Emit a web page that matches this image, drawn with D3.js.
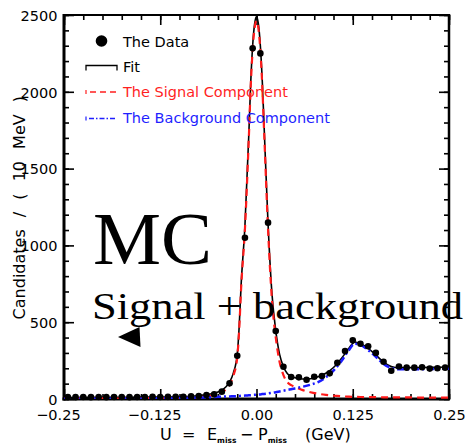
<!DOCTYPE html>
<html>
<head>
<meta charset="utf-8">
<script src="https://cdn.jsdelivr.net/npm/d3@7"></script>
<style>
  html, body { margin: 0; padding: 0; background: #fff; }
  svg { display: block; }
</style>
</head>
<body>
<svg id="chart" width="467" height="445"></svg>
<script>
// ---- binned candidates (10 MeV bins) ----
const binCenters = [
  -0.245, -0.235, -0.225, -0.215, -0.205, -0.195, -0.185, -0.175, -0.165, -0.155,
  -0.145, -0.135, -0.125, -0.115, -0.105, -0.095, -0.085, -0.075, -0.065, -0.055,
  -0.045, -0.035, -0.025, -0.015, -0.005,  0.005,  0.015,  0.025,  0.035,  0.045,
   0.055,  0.065,  0.075,  0.085,  0.095,  0.105,  0.115,  0.125,  0.135,  0.145,
   0.155,  0.165,  0.175,  0.185,  0.195,  0.205,  0.215,  0.225,  0.235,  0.245
];
const counts = [
  13, 12, 13, 12, 13, 12, 13, 13, 12, 13,
  13, 14, 13, 14, 14, 15, 17, 20, 26, 31,
  48, 102, 282, 1050, 2283, 2250, 1148, 442, 210, 143,
  141, 125, 145, 150, 167, 236, 312, 382, 360, 343,
  300, 243, 184, 212, 204, 204, 207, 198, 200, 204
];

// ---- fit curves, sampled along U ----
const curveX = [
  -0.25, -0.2, -0.15, -0.1, -0.08, -0.07, -0.06, -0.05, -0.045, -0.04,
  -0.035, -0.03, -0.025, -0.0225, -0.02, -0.015, -0.01, -0.0075, -0.005, -0.0025,
  0, 0.0025, 0.005, 0.0075, 0.01, 0.015, 0.02, 0.025, 0.03, 0.035,
  0.04, 0.045, 0.05, 0.06, 0.07, 0.08, 0.09, 0.10, 0.11, 0.12,
  0.1275, 0.135, 0.145, 0.155, 0.165, 0.175, 0.185, 0.2, 0.225, 0.25
];
const fitY = [
  10, 11, 12, 15, 20, 25, 32, 46, 58, 78,
  110, 170, 290, 470, 740, 1130, 1720, 2060, 2300, 2440,
  2490, 2440, 2300, 2070, 1760, 1140, 690, 445, 290, 210,
  166, 148, 139, 130, 132, 145, 168, 205, 262, 330,
  370, 360, 330, 287, 240, 212, 204, 204, 206, 208
];
const signalY = [
  4, 4, 5, 6, 10, 14, 20, 32, 43, 62,
  93, 152, 271, 450, 719, 1108, 1696, 2035, 2274, 2413,
  2462, 2411, 2270, 2038, 1727, 1104, 650, 401, 241, 156,
  110, 90, 78, 58, 44, 34, 27, 22, 18, 15,
  14, 13, 12, 12, 11, 11, 10, 10, 9, 9
];
const backgroundY = [
  2, 3, 4, 7, 9, 10, 12, 14, 15, 16,
  17, 18, 19, 20, 21, 22, 24, 25, 26, 27,
  28, 29, 30, 32, 33, 36, 40, 44, 49, 54,
  59, 64, 69, 80, 93, 110, 140, 185, 245, 318,
  360, 352, 318, 275, 228, 202, 193, 193, 195, 197
];

// ---- axis ticks ----
const xTickValues = [-0.25, -0.125, 0, 0.125, 0.25];
const xTickLabels = ["\u22120.25", "\u22120.125", "0.00", "0.125", "0.25"];
const yTickValues = [0, 500, 1000, 1500, 2000, 2500];
const yTickLabels = ["0", "500", "1000", "1500", "2000", "2500"];

// ---- legend ----
const legendLabels = ["The Data", "Fit", "The Signal Component", "The Background Component"];
const legendColors = ["#000", "#000", "#ff1f1f", "#1f1fff"];

const svg = d3.select("#chart");
const plot = { left: 64, right: 449, top: 15, bottom: 399 };
const font = "'DejaVu Sans', sans-serif";

const x = d3.scaleLinear().domain([-0.25, 0.25]).range([plot.left, plot.right]);
const y = d3.scaleLinear().domain([0, 2500]).range([plot.bottom, plot.top]);

svg.append("rect").attr("width", 467).attr("height", 445).attr("fill", "#fff");

function plainTicks(g) {
  g.select(".domain").remove();
  g.selectAll(".tick line").attr("stroke", "#000").attr("stroke-width", 1.6);
  g.selectAll(".tick text").remove();
}

// minor ticks on all four sides (pointing inward)
const xMinor = d3.range(0, 21).map(i => -0.25 + i * 0.025);
const yMinor = d3.range(0, 26).map(i => i * 100);
svg.append("g").attr("transform", `translate(0,${plot.bottom})`)
  .call(d3.axisBottom(x).tickValues(xMinor).tickSize(-5).tickSizeOuter(0)).call(plainTicks);
svg.append("g").attr("transform", `translate(0,${plot.top})`)
  .call(d3.axisTop(x).tickValues(xMinor).tickSize(-5).tickSizeOuter(0)).call(plainTicks);
svg.append("g").attr("transform", `translate(${plot.left},0)`)
  .call(d3.axisLeft(y).tickValues(yMinor).tickSize(-5).tickSizeOuter(0)).call(plainTicks);
svg.append("g").attr("transform", `translate(${plot.right},0)`)
  .call(d3.axisRight(y).tickValues(yMinor).tickSize(-5).tickSizeOuter(0)).call(plainTicks);

// major ticks
svg.append("g").attr("transform", `translate(0,${plot.top})`)
  .call(d3.axisTop(x).tickValues(xTickValues).tickSize(-10).tickSizeOuter(0)).call(plainTicks);
svg.append("g").attr("transform", `translate(${plot.right},0)`)
  .call(d3.axisRight(y).tickValues(yTickValues).tickSize(-10).tickSizeOuter(0)).call(plainTicks);

const xAxis = svg.append("g").attr("transform", `translate(0,${plot.bottom})`)
  .call(d3.axisBottom(x).tickValues(xTickValues).tickSize(-10).tickSizeOuter(0)
    .tickFormat(d => xTickLabels[xTickValues.indexOf(d)]));
xAxis.select(".domain").remove();
xAxis.selectAll(".tick line").attr("stroke", "#000").attr("stroke-width", 1.6);
xAxis.selectAll(".tick text")
  .attr("font-family", font).attr("font-size", "14.5px").attr("fill", "#000")
  .attr("y", 21).attr("dy", null);

// measure the minus sign so the numeric part stays centred on its tick
const probe = svg.append("text").attr("font-family", font).attr("font-size", "14.5px").text("\u2212");
const minusW = probe.node().getComputedTextLength();
probe.remove();
xAxis.selectAll(".tick text").attr("dx", function () {
  return this.textContent.startsWith("\u2212") ? -minusW / 2 : 0;
});

const yAxis = svg.append("g").attr("transform", `translate(${plot.left},0)`)
  .call(d3.axisLeft(y).tickValues(yTickValues).tickSize(-10).tickSizeOuter(0).tickPadding(6.5)
    .tickFormat(d => yTickLabels[yTickValues.indexOf(d)]));
yAxis.select(".domain").remove();
yAxis.selectAll(".tick line").attr("stroke", "#000").attr("stroke-width", 1.6);
yAxis.selectAll(".tick text")
  .attr("font-family", font).attr("font-size", "14.5px").attr("fill", "#000").attr("dy", "0.36em");

// frame
const frame = svg.append("g").attr("stroke", "#000").attr("fill", "none");
frame.append("line").attr("x1", plot.left).attr("x2", plot.right).attr("y1", plot.top).attr("y2", plot.top).attr("stroke-width", 2.2);
frame.append("line").attr("x1", plot.right).attr("x2", plot.right).attr("y1", plot.top - 1).attr("y2", plot.bottom + 1).attr("stroke-width", 2.5);
frame.append("line").attr("x1", plot.left).attr("x2", plot.left).attr("y1", plot.top - 1).attr("y2", plot.bottom + 1.5).attr("stroke-width", 3);
frame.append("line").attr("x1", plot.left - 1.5).attr("x2", plot.right + 1).attr("y1", plot.bottom).attr("y2", plot.bottom).attr("stroke-width", 3);

// clip for curves
svg.append("clipPath").attr("id", "plotClip").append("rect")
  .attr("x", plot.left).attr("y", plot.top)
  .attr("width", plot.right - plot.left).attr("height", plot.bottom - plot.top);

const line = d3.line().x(d => x(d[0])).y(d => y(d[1])).curve(d3.curveMonotoneX);
const curves = svg.append("g").attr("clip-path", "url(#plotClip)").attr("fill", "none");

curves.append("path").datum(curveX.map((u, i) => [u, fitY[i]]))
  .attr("d", line).attr("stroke", "#000").attr("stroke-width", 1.6);
curves.append("path").datum(curveX.map((u, i) => [u, signalY[i]]))
  .attr("d", line).attr("stroke", "#ff1a1a").attr("stroke-width", 2.2)
  .attr("stroke-dasharray", "7,5");
curves.append("path").datum(curveX.map((u, i) => [u, backgroundY[i]]))
  .attr("d", line).attr("stroke", "#1a1aff").attr("stroke-width", 2.5)
  .attr("stroke-dasharray", "7,3,2,3");

// data points
svg.append("g").selectAll("circle").data(binCenters.map((u, i) => [u, counts[i]]))
  .join("circle")
  .attr("cx", d => x(d[0])).attr("cy", d => y(d[1])).attr("r", 3.3).attr("fill", "#000");

// legend
const legend = svg.append("g");
legend.append("circle").attr("cx", 101.5).attr("cy", 41).attr("r", 5.8).attr("fill", "#000");
legend.append("path").attr("d", "M86,70.5V65.5H117V70.5").attr("fill", "none")
  .attr("stroke", "#000").attr("stroke-width", 1.3);
legend.append("line").attr("x1", 86).attr("x2", 86).attr("y1", 90).attr("y2", 94)
  .attr("stroke", legendColors[2]).attr("stroke-width", 1.2);
legend.append("line").attr("x1", 90).attr("x2", 117).attr("y1", 92).attr("y2", 92)
  .attr("stroke", legendColors[2]).attr("stroke-width", 1.4).attr("stroke-dasharray", "6,4");
legend.append("line").attr("x1", 86).attr("x2", 86).attr("y1", 116.5).attr("y2", 120.5)
  .attr("stroke", legendColors[3]).attr("stroke-width", 1.2);
legend.append("line").attr("x1", 89).attr("x2", 117).attr("y1", 118.5).attr("y2", 118.5)
  .attr("stroke", legendColors[3]).attr("stroke-width", 1.4).attr("stroke-dasharray", "5,2,1.5,2");
const legendBaselines = [46.5, 71.5, 96.5, 122.5];
legend.selectAll("text").data(legendLabels).join("text")
  .attr("x", 123).attr("y", (d, i) => legendBaselines[i])
  .attr("font-family", font).attr("font-size", "14.5px")
  .attr("fill", (d, i) => legendColors[i])
  .text(d => d);

// axis titles
svg.append("text")
  .attr("transform", "translate(25,96) rotate(-90)")
  .attr("text-anchor", "end")
  .attr("font-family", font).attr("font-size", "16px").attr("word-spacing", "7px")
  .attr("fill", "#000")
  .text("Candidates / ( 10 MeV )");

const xt = svg.append("text").attr("y", 440).attr("font-family", font)
  .attr("font-size", "16px").attr("fill", "#000");
xt.append("tspan").attr("x", 160).text("U");
xt.append("tspan").attr("x", 182).text("=");
xt.append("tspan").attr("x", 207).text("E");
xt.append("tspan").attr("dy", 3).attr("font-size", "7.5px").attr("font-weight", "bold").text("miss");
xt.append("tspan").attr("x", 240).attr("dy", -3).text("\u2212");
xt.append("tspan").attr("x", 258).text("P");
xt.append("tspan").attr("dy", 3).attr("font-size", "7.5px").attr("font-weight", "bold").text("miss");
xt.append("tspan").attr("x", 305).attr("dy", -3).text("(GeV)");

// annotations
svg.append("text").attr("x", 93).attr("y", 264)
  .attr("font-family", "'Liberation Serif', 'DejaVu Serif', serif")
  .attr("font-size", "73px").attr("fill", "#000")
  .attr("textLength", 119).attr("lengthAdjust", "spacingAndGlyphs")
  .text("MC");
svg.append("text").attr("x", 92).attr("y", 319)
  .attr("font-family", "'Liberation Serif', 'DejaVu Serif', serif")
  .attr("font-size", "38px").attr("fill", "#000")
  .attr("textLength", 371).attr("lengthAdjust", "spacingAndGlyphs")
  .text("Signal + background");
svg.append("path").attr("d", "M118,337L139.5,327L140.5,347Z").attr("fill", "#000");
</script>
</body>
</html>
